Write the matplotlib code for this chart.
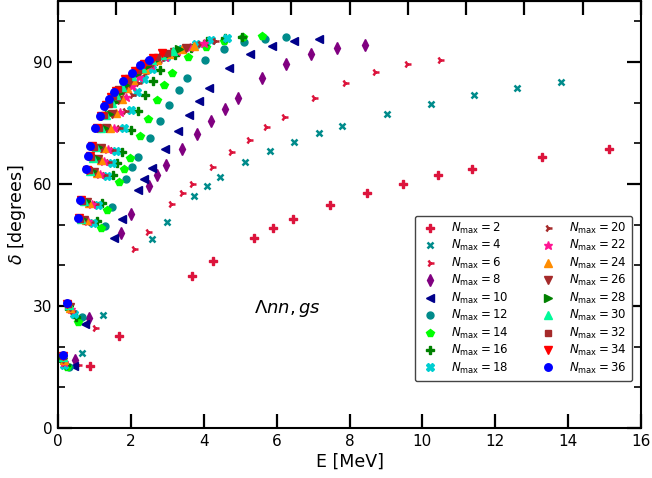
import numpy as np
import matplotlib
matplotlib.use("Agg")
import matplotlib.pyplot as plt
from matplotlib.ticker import MultipleLocator, FixedLocator, NullFormatter

# ---------------- data ----------------
nmax = [2, 4, 6, 8, 10, 12, 14, 16, 18, 20, 22, 24, 26, 28, 30, 32, 34, 36]

E_2 = [0.89, 1.67, 3.67, 4.26, 5.38, 5.91, 6.44, 7.46, 8.47, 9.46, 10.42, 11.37, 13.27, 15.12]
D_2 = [15.2, 22.7, 37.5, 41.0, 46.8, 49.2, 51.3, 54.8, 57.7, 60.0, 62.2, 63.8, 66.6, 68.6]

E_4 = [0.67, 1.23, 2.57, 2.98, 3.73, 4.09, 4.44, 5.13, 5.82, 6.49, 7.15, 7.79, 9.03, 10.25, 11.41, 12.60, 13.80]
D_4 = [18.4, 27.9, 46.5, 50.7, 57.1, 59.6, 61.8, 65.3, 68.2, 70.4, 72.5, 74.2, 77.2, 79.7, 81.9, 83.6, 85.0]

E_6 = [0.55, 1.02, 2.09, 2.48, 3.10, 3.39, 3.68, 4.23, 4.75, 5.25, 5.72, 6.19, 7.03, 7.87, 8.71, 9.57, 10.48]
D_6 = [15.4, 24.5, 43.9, 48.1, 55.0, 57.7, 60.1, 64.3, 67.8, 70.9, 73.9, 76.4, 81.1, 84.9, 87.5, 89.4, 90.5]

E_8 = [0.47, 0.84, 1.74, 2.00, 2.49, 2.72, 2.96, 3.40, 3.82, 4.21, 4.58, 4.93, 5.60, 6.26, 6.94, 7.66, 8.43]
D_8 = [16.7, 27.0, 48.0, 52.6, 59.5, 62.3, 64.7, 68.7, 72.2, 75.4, 78.5, 81.2, 86.0, 89.6, 92.0, 93.5, 94.2]

E_10 = [0.45, 0.74, 1.53, 1.75, 2.19, 2.37, 2.57, 2.94, 3.28, 3.59, 3.88, 4.15, 4.70, 5.26, 5.86, 6.49, 7.16]
D_10 = [15.2, 25.5, 46.8, 51.4, 58.5, 61.3, 64.0, 68.7, 73.0, 76.9, 80.5, 83.6, 88.6, 91.9, 94.0, 95.2, 95.7]

E_12 = [0.30, 0.65, 1.29, 1.49, 1.86, 2.04, 2.20, 2.52, 2.80, 3.06, 3.31, 3.55, 4.04, 4.56, 5.10, 5.68, 6.26]
D_12 = [15.0, 27.2, 49.6, 54.3, 61.2, 64.1, 66.6, 71.2, 75.6, 79.5, 83.0, 86.0, 90.5, 93.2, 94.8, 95.7, 96.2]

E_14 = [0.25, 0.56, 1.18, 1.34, 1.68, 1.82, 1.98, 2.24, 2.48, 2.71, 2.92, 3.14, 3.58, 4.06, 4.55, 5.07, 5.59]
D_14 = [15.0, 26.0, 49.1, 53.6, 60.6, 63.6, 66.4, 71.7, 76.0, 80.6, 84.3, 87.2, 91.3, 93.7, 95.2, 96.1, 96.4]

E_16 = [0.22, 0.49, 1.07, 1.22, 1.51, 1.63, 1.76, 2.00, 2.20, 2.40, 2.60, 2.80, 3.22, 3.66, 4.10, 4.58, 5.06]
D_16 = [15.5, 27.2, 51.0, 55.4, 62.2, 65.1, 67.9, 73.2, 78.0, 82.0, 85.4, 88.1, 91.6, 93.5, 95.1, 95.8, 96.2]

E_18 = [0.17, 0.43, 0.96, 1.10, 1.35, 1.48, 1.60, 1.81, 2.00, 2.18, 2.37, 2.57, 2.96, 3.39, 3.79, 4.21, 4.64]
D_18 = [15.5, 28.0, 50.5, 54.8, 62.0, 65.1, 68.2, 73.7, 78.3, 82.6, 85.8, 88.2, 91.2, 93.1, 94.4, 95.4, 96.0]

E_20 = [0.16, 0.38, 0.88, 1.01, 1.25, 1.36, 1.47, 1.67, 1.84, 2.02, 2.19, 2.38, 2.75, 3.15, 3.51, 3.90, 4.30]
D_20 = [15.9, 28.8, 50.7, 55.0, 62.3, 65.4, 68.4, 73.7, 78.0, 82.0, 84.9, 87.2, 90.1, 92.1, 93.5, 94.5, 95.2]

E_22 = [0.16, 0.36, 0.82, 0.93, 1.15, 1.26, 1.36, 1.54, 1.71, 1.87, 2.03, 2.21, 2.56, 2.93, 3.27, 3.63, 4.00]
D_22 = [16.3, 29.2, 50.9, 55.2, 62.5, 65.7, 68.6, 73.7, 77.8, 81.4, 84.2, 86.3, 89.2, 91.2, 92.7, 93.8, 94.6]

E_24 = [0.16, 0.34, 0.76, 0.86, 1.07, 1.17, 1.26, 1.43, 1.59, 1.75, 1.90, 2.07, 2.39, 2.73, 3.05, 3.39, 3.73]
D_24 = [16.7, 29.5, 51.1, 55.4, 62.8, 66.0, 68.8, 73.7, 77.5, 81.0, 83.5, 85.5, 88.4, 90.4, 92.0, 93.1, 94.0]

E_26 = [0.15, 0.32, 0.71, 0.80, 1.00, 1.09, 1.17, 1.33, 1.48, 1.64, 1.78, 1.94, 2.25, 2.57, 2.87, 3.18, 3.50]
D_26 = [17.0, 29.8, 51.2, 55.6, 63.0, 66.2, 68.9, 73.7, 77.3, 80.6, 82.9, 84.8, 87.7, 89.7, 91.3, 92.5, 93.5]

E_28 = [0.15, 0.30, 0.67, 0.76, 0.94, 1.03, 1.10, 1.25, 1.40, 1.55, 1.68, 1.84, 2.13, 2.43, 2.72, 3.01, 3.32]
D_28 = [17.2, 30.0, 51.3, 55.7, 63.1, 66.4, 69.0, 73.7, 77.2, 80.2, 82.4, 84.3, 87.1, 89.1, 90.8, 92.0, 93.1]

E_30 = [0.15, 0.29, 0.63, 0.71, 0.88, 0.97, 1.04, 1.18, 1.32, 1.47, 1.60, 1.75, 2.03, 2.31, 2.58, 2.86, 3.15]
D_30 = [17.4, 30.3, 51.4, 55.8, 63.3, 66.5, 69.1, 73.7, 77.0, 79.9, 82.0, 83.8, 86.5, 88.6, 90.4, 91.6, 92.7]

E_32 = [0.15, 0.28, 0.60, 0.67, 0.84, 0.91, 0.98, 1.12, 1.25, 1.39, 1.52, 1.66, 1.93, 2.20, 2.46, 2.72, 3.00]
D_32 = [17.6, 30.5, 51.5, 55.9, 63.4, 66.7, 69.2, 73.7, 76.9, 79.6, 81.6, 83.3, 86.1, 88.1, 90.0, 91.2, 92.3]

E_34 = [0.15, 0.26, 0.57, 0.64, 0.80, 0.87, 0.93, 1.06, 1.19, 1.33, 1.45, 1.59, 1.85, 2.10, 2.35, 2.60, 2.86]
D_34 = [17.8, 30.6, 51.6, 56.0, 63.5, 66.8, 69.3, 73.7, 76.8, 79.4, 81.3, 82.9, 85.7, 87.7, 89.6, 90.9, 92.1]

E_36 = [0.145, 0.255, 0.54, 0.61, 0.76, 0.83, 0.89, 1.015, 1.14, 1.275, 1.39, 1.53, 1.78, 2.02, 2.26, 2.50]
D_36 = [17.95, 30.8, 51.7, 56.1, 63.6, 66.9, 69.4, 73.7, 76.7, 79.2, 81.0, 82.6, 85.3, 87.4, 89.3, 90.6]

E_all = [E_2, E_4, E_6, E_8, E_10, E_12, E_14, E_16, E_18,
         E_20, E_22, E_24, E_26, E_28, E_30, E_32, E_34, E_36]
D_all = [D_2, D_4, D_6, D_8, D_10, D_12, D_14, D_16, D_18,
         D_20, D_22, D_24, D_26, D_28, D_30, D_32, D_34, D_36]

# ---------------- styles ----------------
colors = ['#DC143C', '#008B8B', '#DC143C', '#800080', '#00008B', '#008B8B',
          '#00FF00', '#008000', '#00CED1', '#A52A2A', '#FF1493', '#FF8C00',
          '#A52A2A', '#008000', '#00FA9A', '#A52A2A', '#FF0000', '#0000FF']
markers = ['P', 'x', '4', 'd', '<', 'o', 'p', 'P', 'X', '4', '*', '^',
           'v', '>', '^', 's', 'v', 'o']
msizes = [5.8, 5.0, 5.8, 5.8, 5.3, 5.0, 5.4, 5.8, 5.8, 5.8, 6.3, 5.4, 5.4, 5.4, 5.4, 4.6, 5.4, 5.4]

fig = plt.figure(figsize=(6.52, 4.78), dpi=100)
ax = fig.add_axes([58/652, 50/478, 583/652, 427/478])

for n, e, d, c, m, s in zip(nmax, E_all, D_all, colors, markers, msizes):
    mew = 1.8 if m in ('x', '4') else 1.0
    ax.plot(e, d, linestyle='none', marker=m, color=c, markersize=s,
            markeredgewidth=mew, label=r'$N_{\max} = %d$' % n)

ax.set_xlim(0, 16)
ax.set_ylim(0, 105)
ax.set_xticks(np.arange(0, 17, 2))
ax.set_yticks([0, 30, 60, 90])
ax.yaxis.set_minor_locator(MultipleLocator(10))
ax.tick_params(axis='both', which='major', direction='in', length=10, width=1.6,
               labelsize=11, pad=4)
ax.tick_params(axis='y', which='minor', direction='in', length=5, width=1.2)
ax.tick_params(axis='y', which='both', right=True)
for sp in ax.spines.values():
    sp.set_linewidth(1.5)

sec = ax.secondary_xaxis('top')
sec.xaxis.set_major_locator(FixedLocator(np.linspace(0, 16, 11)))
sec.xaxis.set_major_formatter(NullFormatter())
sec.tick_params(direction='in', length=10, width=1.6)

ax.set_xlabel('E [MeV]', fontsize=12.5, labelpad=3)
ax.set_ylabel(r'$\delta$ [degrees]', fontsize=12.5, labelpad=4)

ax.text(6.3, 29.5, r'$\mathit{\Lambda} nn, gs$', fontsize=13, ha='center', va='center')

leg = ax.legend(ncol=2, loc='lower right', bbox_to_anchor=(0.985, 0.11),
                borderaxespad=0, fontsize=8.5, frameon=True, fancybox=True,
                edgecolor='#444444', framealpha=1, handletextpad=1.0,
                columnspacing=2.5, labelspacing=0.2, handlelength=1.6,
                borderpad=0.45)
leg.get_frame().set_linewidth(1.0)

fig.savefig('out.png', dpi=100)
